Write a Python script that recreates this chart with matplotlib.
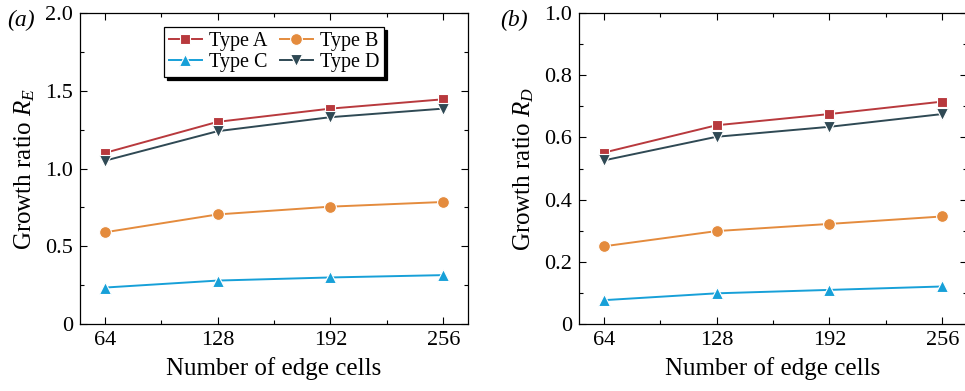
import matplotlib.pyplot as plt
from matplotlib.ticker import MultipleLocator

# edge-cell counts on the x axis
cells = [64, 128, 192, 256]
type_names = ['Type A', 'Type B', 'Type C', 'Type D']

# growth ratio R_E
re_a = [1.10, 1.30, 1.385, 1.445]
re_b = [0.59, 0.705, 0.755, 0.785]
re_c = [0.235, 0.28, 0.30, 0.315]
re_d = [1.05, 1.24, 1.33, 1.385]

# growth ratio R_D
rd_a = [0.551, 0.639, 0.675, 0.715]
rd_b = [0.25, 0.299, 0.322, 0.346]
rd_c = [0.077, 0.099, 0.11, 0.121]
rd_d = [0.526, 0.602, 0.634, 0.675]

colors = ['#b8393d', '#e48b3d', '#17a0d8', '#2f4954']
markers = ['s', 'o', '^', 'v']

plt.rcParams['font.family'] = ['Liberation Serif', 'DejaVu Serif']
plt.rcParams['mathtext.fontset'] = 'custom'
plt.rcParams['mathtext.it'] = 'Liberation Serif:italic'
plt.rcParams['mathtext.rm'] = 'Liberation Serif'

fig = plt.figure(figsize=(9.65, 3.91), dpi=100)
ax1 = fig.add_axes([0.083, 0.171, 0.402, 0.796])
ax2 = fig.add_axes([0.600, 0.171, 0.402, 0.796])


def style_axis(ax, ymax, ymajor):
    ax.set_xlim(50, 270)
    ax.set_ylim(0, ymax)
    ax.set_xticks(cells)
    ax.xaxis.set_minor_locator(MultipleLocator(32))
    ax.yaxis.set_major_locator(MultipleLocator(ymajor))
    ax.yaxis.set_minor_locator(MultipleLocator(ymajor / 2))
    ax.set_yticklabels(['0' if v == 0 else f'{v:.1f}' for v in ax.get_yticks()])
    ax.tick_params(which='both', direction='in', top=True, right=True,
                   labelsize=16, width=0.8)
    ax.tick_params(which='major', length=5, pad=5)
    ax.tick_params(which='minor', length=3)
    for s in ax.spines.values():
        s.set_linewidth(0.9)
    ax.set_xlabel('Number of edge cells', fontsize=18, labelpad=5)


def plot_series(ax, series):
    lines = []
    for vals, c, m, name in zip(series, colors, markers, type_names):
        ms = 7 if m == 's' else 8.5
        ln, = ax.plot(cells, vals, color=c, marker=m, markersize=ms,
                      markeredgecolor='white', markeredgewidth=0.8,
                      linewidth=1.4, label=name)
        lines.append(ln)
    return lines


lines = plot_series(ax1, [re_a, re_b, re_c, re_d])
plot_series(ax2, [rd_a, rd_b, rd_c, rd_d])

style_axis(ax1, 2.0, 0.5)
style_axis(ax2, 1.0, 0.2)

ax1.set_ylabel('Growth ratio $R_E$', fontsize=18, labelpad=6)
ax2.set_ylabel('Growth ratio $R_D$', fontsize=18, labelpad=6)

# two columns filled row by row: A B / C D
order = [0, 2, 1, 3]
leg = ax1.legend(handles=[lines[i] for i in order], ncol=2,
                 loc='upper center', bbox_to_anchor=(0.50, 0.955),
                 fontsize=14.5, frameon=True, fancybox=False,
                 edgecolor='black', shadow={'color': 'black', 'alpha': 1.0},
                 handlelength=1.65, handletextpad=0.35, columnspacing=0.6,
                 labelspacing=0.1, borderpad=0.25, borderaxespad=0.0)
leg.get_frame().set_linewidth(0.9)
leg.get_frame().set_alpha(1.0)

fig.text(0.022, 0.947, '(a)', fontsize=17, style='italic',
         ha='center', va='center')
fig.text(0.533, 0.947, '(b)', fontsize=17, style='italic',
         ha='center', va='center')

fig.savefig('out.png', dpi=100)
